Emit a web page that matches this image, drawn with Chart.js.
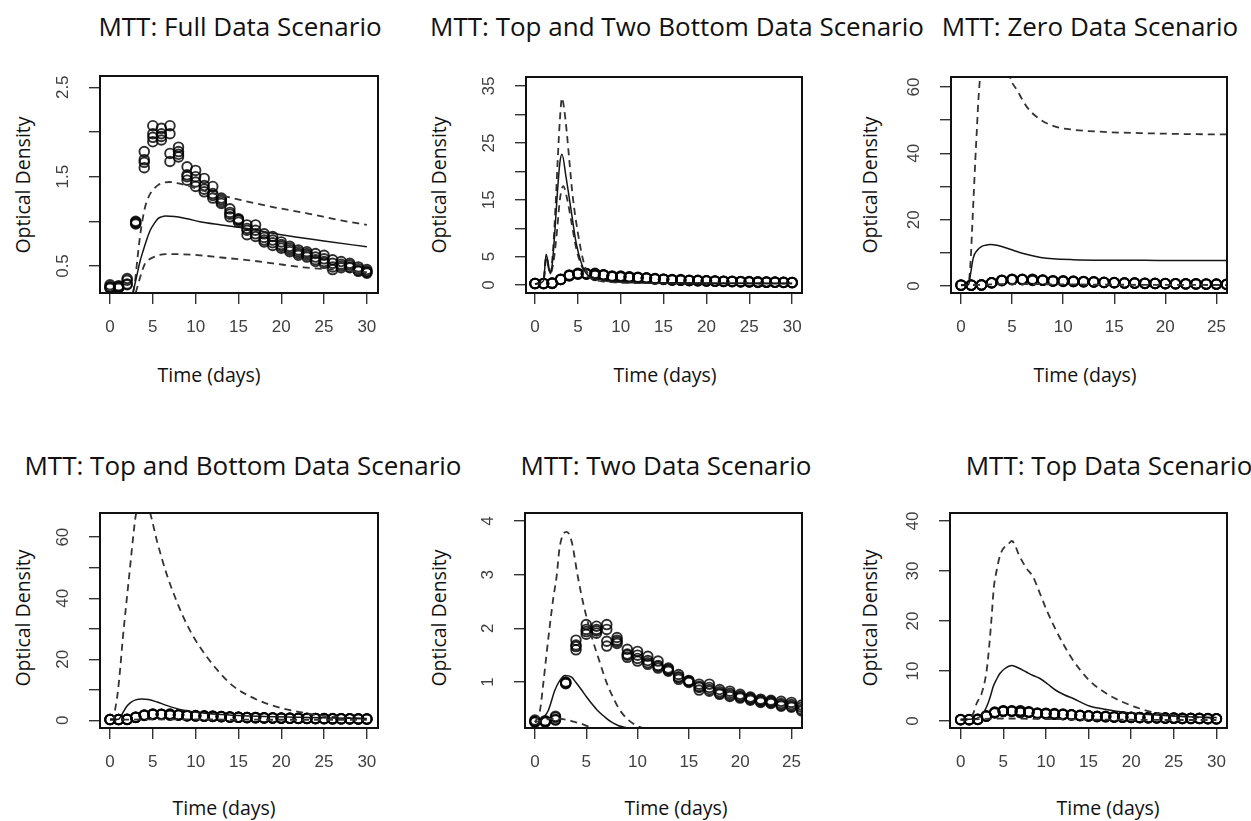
<!DOCTYPE html>
<html lang="en">
<head>
    <meta charset="UTF-8">
    <title>MTT scenarios</title>
    <style>
        body, html {
            margin: 0;
            padding: 0;
            background: #fff;
        }
        #page {
            position: relative;
            width: 1251px;
            height: 821px;
            overflow: hidden;
            font-family: "Open Sans", Lato, sans-serif;
            color: #111;
        }
        #page canvas {
            position: absolute;
        }
        .ttl, .axt {
            position: absolute;
            white-space: nowrap;
            line-height: 1.2;
            transform: translate(-50%, -50%);
        }
        .ttl { font-size: 26px; }
        .axt { font-size: 19.5px; }
        .axt.rot { transform: translate(-50%, -50%) rotate(-90deg); }
    </style>
</head>
<body>

<div id="page"></div>

<script src="https://cdn.jsdelivr.net/npm/chart.js"></script>
<script>
    // observed optical density, 4 replicate wells per day
    var days = [0,1,2,3,4,5,6,7,8,9,10,11,12,13,14,15,16,17,18,19,20,21,22,23,24,25,26,27,28,29,30];
    var odRepA = [0.29,0.28,0.36,1.00,1.78,2.07,2.04,2.07,1.83,1.61,1.57,1.48,1.39,1.26,1.14,1.03,0.96,0.96,0.86,0.83,0.77,0.72,0.68,0.66,0.64,0.62,0.57,0.55,0.53,0.49,0.46];
    var odRepB = [0.27,0.27,0.34,0.99,1.69,1.98,1.98,1.98,1.78,1.50,1.50,1.40,1.31,1.24,1.10,1.01,0.90,0.90,0.82,0.79,0.74,0.70,0.66,0.64,0.60,0.58,0.53,0.52,0.51,0.47,0.44];
    var odRepC = [0.26,0.26,0.30,0.98,1.60,1.94,1.91,1.76,1.72,1.46,1.44,1.33,1.26,1.20,1.05,0.99,0.85,0.86,0.79,0.76,0.72,0.68,0.64,0.62,0.57,0.55,0.49,0.50,0.49,0.45,0.43];
    var odRepD = [0.25,0.25,0.29,0.97,1.66,1.89,1.95,1.67,1.75,1.52,1.39,1.36,1.29,1.22,1.08,1.02,0.92,0.83,0.77,0.73,0.70,0.66,0.62,0.60,0.55,0.53,0.46,0.48,0.48,0.44,0.42];

    // model curves (median = solid, bounds = dashed)
    var fullMidT = [2.6,3.1,3.5,3.9,4.3,4.7,5.2,5.6,6.0,6.5,7.5,9,10.5,13,16,20,25,30];
    var fullMid  = [0.17,0.38,0.55,0.68,0.80,0.90,0.98,1.03,1.05,1.06,1.055,1.03,0.995,0.96,0.92,0.85,0.78,0.715];
    var fullHiT  = [2.7,2.9,3.2,3.5,3.8,4.1,4.4,4.7,5.2,5.6,6.2,7.0,8.0,9,11,13,15.2,19,23,27,30];
    var fullHi   = [0.2,0.31,0.58,0.83,1.02,1.16,1.25,1.31,1.37,1.405,1.43,1.44,1.425,1.40,1.34,1.29,1.24,1.16,1.09,1.01,0.96];
    var fullLoT  = [3.0,3.3,3.6,4.1,4.6,5.1,5.8,6.5,8,10.5,13,16,19,22.6,26,30];
    var fullLo   = [0.2,0.30,0.40,0.53,0.575,0.60,0.625,0.634,0.632,0.62,0.595,0.567,0.53,0.485,0.46,0.43];

    var tbbMidT = [0,0.6,1.0,1.3,1.8,2.0,2.3,2.6,2.9,3.15,3.6,4.2,4.8,5.4,5.9,6.5,7.5,9,12,16,20,25,30];
    var tbbMid  = [0.2,0.4,0.8,5.4,2.0,3.5,9,16,21.5,23.0,19.2,13.3,7.4,3.9,2.2,1.4,1.0,0.7,0.5,0.4,0.35,0.3,0.3];
    var tbbHiT  = [0,1.0,1.3,1.8,2.1,2.4,2.65,2.9,3.15,3.4,3.7,4.0,4.4,5.0,5.6,6.1,7,8,10,15,20,30];
    var tbbHi   = [0.2,0.8,5.0,2.2,6,14,22,29,32.9,31,27,22,15.6,9.2,4.5,2.2,1.2,0.8,0.5,0.35,0.3,0.25];
    var tbbLoT  = [0,1.0,1.3,1.8,2.2,2.6,2.9,3.3,3.7,4.2,4.8,5.4,6.0,7,9,12,20,30];
    var tbbLo   = [0.2,0.8,4.5,2.0,4.5,10,15,17.4,15.5,11.5,6.5,3.5,1.8,0.9,0.5,0.35,0.3,0.25];

    var zeroMidT = [0,0.6,0.75,0.9,1.2,1.6,2.0,2.4,2.86,3.5,4.2,5.1,6.0,7.0,7.8,9,11,14,18,22,26];
    var zeroMid  = [0.3,0.3,0.5,3,8.5,10.8,11.9,12.3,12.5,12.3,11.7,10.8,9.9,9.1,8.6,8.2,7.95,7.8,7.75,7.7,7.7];
    var zeroHiT  = [0,0.6,0.8,0.95,1.1,1.25,1.4,1.55,1.7,1.9,2.5,3.5,4.5,4.8,5.5,6.44,7.75,9.4,11,14.3,17.5,22,26];
    var zeroHi   = [0.3,0.3,2,8,18,28,38,47,56,64,76,79,68,63,59,54,50.2,47.9,47.1,46.4,46.1,45.8,45.7];
    var zeroLoT  = [0,5,10,15,20,26];
    var zeroLo   = [0.2,0.6,0.5,0.4,0.35,0.3];

    var tbMidT = [0,1.0,1.3,1.6,1.9,2.4,3.0,3.7,4.5,5.5,6.6,7.6,8.6,10.5,12.5,15,18,22,26,30];
    var tbMid  = [0.3,0.4,1.5,3.0,4.4,5.8,6.7,7.0,6.8,6.0,4.9,4.0,3.3,2.5,2.0,1.6,1.3,1.0,0.8,0.6];
    var tbHiT  = [0,0.4,0.58,0.9,1.17,1.5,1.9,2.3,2.7,3.0,3.5,4.0,4.68,5.46,6.6,7.6,8.57,9.5,10.5,12.5,14.4,16.4,18.3,20.2,22.2,24,26.1,28,30];
    var tbHi   = [0.3,0.5,3.3,9,16.4,27,38.2,49,60,67,71,72,67.9,59,48,40.3,33.8,28.6,24.0,16.6,11.2,7.8,5.5,3.9,2.7,1.8,1.1,0.8,0.5];
    var tbLoT  = [0,5,10,15,20,25,30];
    var tbLo   = [0.2,0.3,0.3,0.25,0.2,0.2,0.2];

    var twoMidT = [0,0.33,0.8,1.3,1.95,2.43,2.92,3.57,4.0,4.55,5.0,5.52,6.1,6.8,7.4,8.1,9.1,10,12,16,26];
    var twoMid  = [0.2,0.22,0.33,0.47,0.85,1.03,1.12,1.09,0.99,0.85,0.73,0.6,0.47,0.35,0.26,0.19,0.14,0.12,0.1,0.08,0.05];
    var twoHiT  = [0,0.49,0.8,1.1,1.45,1.8,2.1,2.4,2.75,3.1,3.6,4.1,4.5,5.0,5.6,6.3,7.0,7.6,8.2,8.9,9.8,10.9,12,14,18,26];
    var twoHi   = [0.25,0.47,0.95,1.47,2.05,2.58,2.95,3.5,3.75,3.8,3.6,3.05,2.65,2.23,1.8,1.38,0.98,0.72,0.5,0.33,0.2,0.12,0.08,0.06,0.04,0.02];
    var twoLoT  = [0,1,2.1,3.0,3.8,4.55,5.5,7,10,26];
    var twoLo   = [0.25,0.3,0.32,0.3,0.26,0.22,0.15,0.1,0.06,0.03];

    var topMidT = [0,1.5,2.2,2.8,3.2,3.5,3.8,4.2,4.6,5.2,6.0,6.8,7.7,8.5,9.3,10.2,11.2,12.2,13.2,15.1,17.1,19,22,26,30];
    var topMid  = [0.3,0.4,0.8,2.0,3.5,5.0,6.8,8.3,9.5,10.5,11.1,10.6,9.8,9.1,8.5,7.4,6.1,5.2,4.5,3.0,2.3,1.8,1.3,0.9,0.7];
    var topHiT  = [0,1.0,1.48,1.87,2.46,3.05,3.35,3.6,3.9,4.22,4.6,5.0,5.5,6.0,6.95,7.7,8.5,9.3,10.1,11.2,12.2,13.2,15.1,17.1,19,21,23,24.9,27,30];
    var topHi   = [0.3,0.4,1.5,3.5,5.5,10.1,15,20.1,26.8,30.1,33.0,34.5,35.2,36.0,32.8,30.6,28.8,25.5,22.1,18.1,14.9,12.1,8.1,5.5,3.8,2.5,1.6,1.1,0.8,0.6];
    var topLoT  = [0,5,10,15,20,25,30];
    var topLo   = [0.2,0.5,0.4,0.3,0.25,0.2,0.2];

    // panel titles and axes
    var titles = ['MTT: Full Data Scenario', 'MTT: Top and Two Bottom Data Scenario', 'MTT: Zero Data Scenario',
                  'MTT: Top and Bottom Data Scenario', 'MTT: Two Data Scenario', 'MTT: Top Data Scenario'];
    var xLabel = 'Time (days)';
    var yLabel = 'Optical Density';
    var xLims = [[-1.17, 31.3], [-1.05, 31.15], [-0.98, 26.04], [-1.17, 31.3], [-0.97, 26.03], [-1.25, 31.24]];
    var yLims = [[0.198, 2.626], [-1.4, 36.6], [-2.1, 63.0], [-2.5, 67.9], [0.143, 4.15], [-1.4, 41.6]];
    var yStep = [0.5, 5, 10, 10, 1, 10];
    var yTickLabels = [[0.5, 1.5, 2.5], [0, 5, 15, 25, 35], [0, 20, 40, 60], [0, 20, 40, 60], [1, 2, 3, 4], [0, 10, 20, 30, 40]];
    var curves = [
        [fullMidT, fullMid, fullHiT, fullHi, fullLoT, fullLo],
        [tbbMidT, tbbMid, tbbHiT, tbbHi, tbbLoT, tbbLo],
        [zeroMidT, zeroMid, zeroHiT, zeroHi, zeroLoT, zeroLo],
        [tbMidT, tbMid, tbHiT, tbHi, tbLoT, tbLo],
        [twoMidT, twoMid, twoHiT, twoHi, twoLoT, twoLo],
        [topMidT, topMid, topHiT, topHi, topLoT, topLo]
    ];

    // layout (pixels): plot box [left, top, right, bottom] and text centres
    var boxes = [[100, 76, 378, 293], [526, 77, 802, 293], [951, 77, 1227, 293],
                 [100, 513, 378, 728], [525, 513, 802, 728], [950, 513, 1227, 728]];
    var titlePos = [[240, 27], [677, 27], [1090, 27], [243, 466], [666, 466], [1109, 466]];
    var xlabPos = [[209, 375], [665, 375], [1085, 375], [224, 808], [676, 808], [1108, 808]];
    var ylabPos = [[23, 185], [439, 185], [870, 185], [23, 618], [439, 618], [870, 618]];

    var tickFamily = "'Liberation Sans', Arial, sans-serif";
    var tickSize = 17;
    var tickLen = 11;
    var yAxisW = 60, xAxisH = 50, padTop = 3, padRight = 4;

    var boxPlugin = {
        id: 'rbox',
        afterDatasetsDraw: function(chart) {
            var a = chart.chartArea, ctx = chart.ctx;
            ctx.save();
            ctx.strokeStyle = '#111';
            ctx.lineWidth = 2;
            ctx.strokeRect(a.left, a.top, a.right - a.left, a.bottom - a.top);
            ctx.restore();
        }
    };

    function pts(ts, vs) {
        return ts.map(function(t, i) { return {x: t, y: vs[i]}; });
    }

    function lineSet(ts, vs, dashed) {
        return {
            data: pts(ts, vs),
            showLine: true,
            pointRadius: 0,
            borderColor: dashed ? '#333' : '#151515',
            borderWidth: dashed ? 1.8 : 1.5,
            borderDash: dashed ? [7, 5] : [],
            cubicInterpolationMode: 'monotone',
            clip: 0
        };
    }

    function obsSet(rep) {
        return {
            data: pts(days, rep),
            showLine: false,
            pointRadius: 4.8,
            pointBorderWidth: 1.9,
            pointBorderColor: 'rgba(0,0,0,0.82)',
            pointBackgroundColor: 'rgba(255,255,255,0)',
            clip: 0
        };
    }

    function addText(cls, text, pos) {
        var d = document.createElement('div');
        d.className = cls;
        d.textContent = text;
        d.style.left = pos[0] + 'px';
        d.style.top = pos[1] + 'px';
        page.appendChild(d);
    }

    var page = document.getElementById('page');
    var mctx = document.createElement('canvas').getContext('2d');
    mctx.font = tickSize + 'px ' + tickFamily;

    boxes.forEach(function(b, k) {
        var w = (b[2] - b[0]) + yAxisW + padRight;
        var h = (b[3] - b[1]) + padTop + xAxisH;
        var cv = document.createElement('canvas');
        cv.width = w; cv.height = h;
        cv.style.width = w + 'px'; cv.style.height = h + 'px';
        cv.style.left = (b[0] - yAxisW) + 'px';
        cv.style.top = (b[1] - padTop) + 'px';
        page.appendChild(cv);

        var labels = yTickLabels[k];
        var widest = 0;
        labels.forEach(function(l) { widest = Math.max(widest, mctx.measureText(String(l)).width); });

        var c = curves[k];
        new Chart(cv, {
            type: 'scatter',
            data: {
                datasets: [
                    lineSet(c[0], c[1], false),
                    lineSet(c[2], c[3], true),
                    lineSet(c[4], c[5], true),
                    obsSet(odRepA), obsSet(odRepB), obsSet(odRepC), obsSet(odRepD)
                ]
            },
            options: {
                responsive: false,
                animation: false,
                devicePixelRatio: 1,
                layout: { padding: {top: padTop, right: padRight, left: 0, bottom: 0}, autoPadding: false },
                plugins: { legend: {display: false}, tooltip: {enabled: false} },
                scales: {
                    x: {
                        type: 'linear',
                        min: xLims[k][0], max: xLims[k][1],
                        ticks: {
                            stepSize: 5, includeBounds: false, autoSkip: false, maxRotation: 0,
                            padding: 13, color: '#404040',
                            font: {family: tickFamily, size: tickSize}
                        },
                        grid: { drawOnChartArea: false, tickLength: tickLen, color: '#333', lineWidth: 1.4 },
                        border: { display: true, color: '#111', width: 1.5 },
                        afterFit: function(s) { s.height = xAxisH; s.paddingLeft = 0; s.paddingRight = 0; }
                    },
                    y: {
                        type: 'linear',
                        min: yLims[k][0], max: yLims[k][1],
                        ticks: {
                            stepSize: yStep[k], includeBounds: false, autoSkip: false,
                            minRotation: 90, maxRotation: 90, crossAlign: 'center',
                            padding: 37 - tickLen - widest / 2, color: '#404040',
                            font: {family: tickFamily, size: tickSize},
                            callback: function(v) {
                                return labels.some(function(l) { return Math.abs(l - v) < 1e-9; }) ? String(v) : '';
                            }
                        },
                        grid: { drawOnChartArea: false, tickLength: tickLen, color: '#333', lineWidth: 1.4 },
                        border: { display: true, color: '#111', width: 1.5 },
                        afterFit: function(s) { s.width = yAxisW; s.paddingTop = 0; s.paddingBottom = 0; }
                    }
                }
            },
            plugins: [boxPlugin]
        });

        addText('ttl', titles[k], titlePos[k]);
        addText('axt', xLabel, xlabPos[k]);
        addText('axt rot', yLabel, ylabPos[k]);
    });
</script>
</body>
</html>
